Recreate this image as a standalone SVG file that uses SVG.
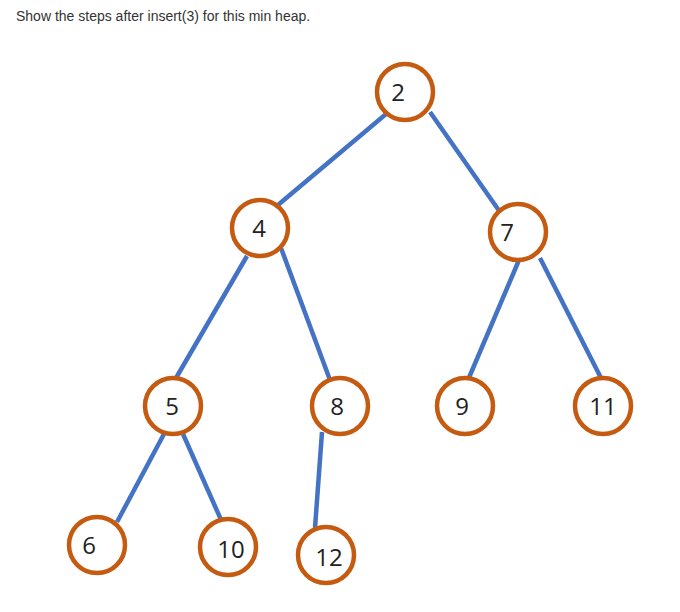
<svg xmlns="http://www.w3.org/2000/svg" width="680" height="612" viewBox="0 0 680 612">
<style>
.e{stroke:#4472C4;stroke-width:4.5;fill:none}
.n circle{fill:#fff;stroke:#C55A11;stroke-width:4.5}
.n text{font-family:"Open Sans","Liberation Sans",sans-serif;font-size:24px;fill:#222;text-anchor:middle}
.t{font-family:"Liberation Sans",Arial,sans-serif;font-size:14px;fill:#333}
</style>
<rect width="680" height="612" fill="#fff"/>
<text class="t" x="16" y="21">Show the steps after insert(3) for this min heap.</text>
<g id="edges">
<line class="e" x1="386" y1="114" x2="278" y2="205"/>
<line class="e" x1="430" y1="112" x2="500" y2="212"/>
<line class="e" x1="247" y1="256" x2="176" y2="378"/>
<line class="e" x1="281" y1="248" x2="330" y2="380"/>
<line class="e" x1="519" y1="260" x2="468" y2="380"/>
<line class="e" x1="540" y1="258" x2="601" y2="378"/>
<line class="e" x1="164" y1="434" x2="117" y2="522"/>
<line class="e" x1="183" y1="434" x2="222" y2="522"/>
<line class="e" x1="322" y1="432" x2="315" y2="528"/>
</g>
<g id="n2" class="n"><circle cx="405" cy="92" r="28"/><text x="398" y="101">2</text></g>
<g id="n4" class="n"><circle cx="260" cy="228" r="28"/><text x="259" y="237">4</text></g>
<g id="n7" class="n"><circle cx="518" cy="232" r="28"/><text x="507" y="241">7</text></g>
<g id="n5" class="n"><circle cx="173" cy="406" r="28"/><text x="172" y="415">5</text></g>
<g id="n8" class="n"><circle cx="340" cy="406" r="28"/><text x="337" y="415">8</text></g>
<g id="n9" class="n"><circle cx="465" cy="406" r="28"/><text x="462" y="415">9</text></g>
<g id="n11" class="n"><circle cx="603" cy="406" r="28"/><text x="603" y="415">11</text></g>
<g id="n6" class="n"><circle cx="97" cy="545" r="28"/><text x="89" y="554">6</text></g>
<g id="n10" class="n"><circle cx="228" cy="547" r="28"/><text x="231" y="558">10</text></g>
<g id="n12" class="n"><circle cx="326" cy="555" r="28"/><text x="329" y="566">12</text></g>
</svg>
